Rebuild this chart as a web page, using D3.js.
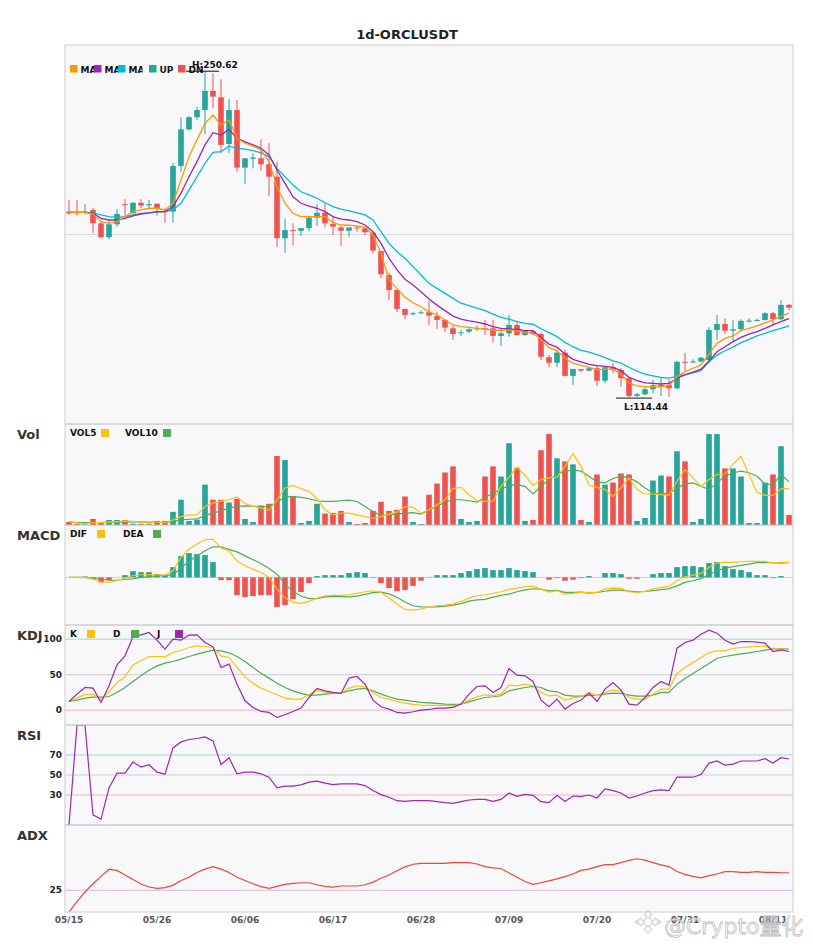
<!DOCTYPE html>
<html>
<head>
<meta charset="utf-8">
<script src="https://cdn.jsdelivr.net/npm/d3@7"></script>
<style>
 body { margin: 0; background: #fff; font-family: "DejaVu Sans", sans-serif; }
</style>
</head>
<body>
<div id="chart-area"></div>
<script>
// ---- data ----
var dates = ["05/15","05/16","05/17","05/18","05/19","05/20","05/21","05/22","05/23","05/24","05/25","05/26","05/27","05/28","05/29","05/30","05/31",
 "06/01","06/02","06/03","06/04","06/05","06/06","06/07","06/08","06/09","06/10","06/11","06/12","06/13","06/14","06/15","06/16","06/17","06/18","06/19","06/20",
 "06/21","06/22","06/23","06/24","06/25","06/26","06/27","06/28","06/29","06/30",
 "07/01","07/02","07/03","07/04","07/05","07/06","07/07","07/08","07/09","07/10","07/11","07/12","07/13","07/14","07/15","07/16","07/17","07/18","07/19","07/20",
 "07/21","07/22","07/23","07/24","07/25","07/26","07/27","07/28","07/29","07/30","07/31",
 "08/01","08/02","08/03","08/04","08/05","08/06","08/07","08/08","08/09","08/10","08/11","08/12","08/13"];

var open = [192.1,191.8,191.6,192.8,187.2,181.4,186.8,195.2,191.4,195.8,194.7,195.4,192.4,192.1,211.2,226.5,231.6,234.6,242.6,239.9,
 220.4,234.6,210.5,214.2,214.4,211.9,206.7,181.0,184.4,184.1,185.2,189.6,191.6,186.9,185.5,184.1,185.5,185.1,183.3,175.6,
 165.6,159.3,151.4,149.4,149.8,150.0,148.4,146.8,143.3,141.4,141.9,143.1,143.3,143.3,140.1,141.2,144.7,140.5,142.0,140.9,
 131.2,128.9,133.1,123.4,126.2,125.6,126.6,121.4,127.0,125.9,122.4,115.0,115.7,117.8,119.4,119.6,118.2,129.3,129.1,129.4,
 130.0,142.6,145.1,142.3,142.9,146.4,146.5,146.8,149.6,147.1,153.1];
var high = [197.0,197.0,195.2,193.7,187.9,188.6,193.1,197.3,196.0,197.3,197.0,195.6,193.5,212.6,231.6,232.1,236.0,250.62,249.9,247.4,
 239.1,238.8,214.4,216.5,222.3,220.7,213.0,189.3,187.2,185.3,190.4,195.2,195.6,190.3,186.1,185.5,186.1,185.5,183.7,175.8,
 166.6,159.5,151.5,150.2,150.8,154.7,150.2,147.0,144.4,142.6,143.3,144.4,146.8,146.8,143.3,148.9,146.5,142.6,142.6,141.5,
 132.1,134.5,134.5,126.3,126.3,126.8,128.0,127.5,128.7,126.6,123.0,116.3,118.6,121.7,122.4,122.0,129.6,133.1,130.3,131.3,
 143.7,148.9,147.5,146.8,147.1,147.5,147.4,150.0,150.2,155.1,153.5];
var low = [190.7,190.4,191.0,183.3,181.0,180.5,185.8,190.3,191.2,193.5,193.1,190.4,187.5,187.5,208.8,226.0,230.4,224.6,235.3,216.5,
 216.5,208.8,203.7,210.2,209.2,198.6,177.2,174.9,178.1,182.0,184.0,186.1,185.5,182.3,177.7,181.6,183.7,182.3,174.7,164.2,
 155.1,150.0,147.1,148.6,149.3,144.7,143.0,141.6,138.4,140.1,141.2,142.2,140.5,137.3,136.0,139.8,140.1,140.1,140.5,130.0,
 127.0,127.0,123.1,119.6,124.9,125.4,119.2,120.3,124.7,118.9,114.44,114.6,115.4,116.1,115.0,114.7,117.8,125.2,128.7,129.2,
 128.9,138.4,140.9,138.1,142.6,145.6,146.1,146.5,144.7,146.7,150.9];
var close = [191.4,191.4,192.1,187.2,181.4,186.8,191.1,194.9,195.8,194.6,195.2,193.3,191.9,211.2,226.5,231.6,234.6,242.6,240.2,220.0,
 234.6,210.5,214.4,214.7,211.9,206.7,181.0,184.4,184.2,185.2,189.6,191.6,187.2,185.8,184.1,185.5,185.3,183.5,175.8,165.9,
 159.3,151.4,148.9,149.6,150.0,148.6,146.8,143.6,140.9,141.6,142.9,143.3,143.1,140.1,141.2,144.7,140.5,142.4,140.9,131.4,
 128.9,133.1,123.4,126.3,125.6,126.6,121.4,127.0,125.9,122.4,115.0,115.7,117.8,119.5,119.6,118.2,129.3,129.1,129.4,131.0,
 142.6,145.1,142.3,142.9,146.4,146.5,146.8,149.6,147.1,153.1,151.9];

var ma5 = [191.8,191.8,191.8,191.1,187.9,187.2,187.9,190.0,192.1,192.8,193.5,193.5,192.8,195.6,205.3,215.1,222.1,229.0,232.5,228.3,
 230.4,222.8,220.7,219.5,217.9,213.0,202.5,195.6,191.4,190.0,190.0,190.0,190.0,187.5,186.5,186.4,186.1,185.5,182.3,174.7,
 163.5,160.0,156.3,154.0,152.3,150.2,148.9,146.8,144.7,144.0,143.7,143.3,142.9,142.6,142.3,142.6,142.3,141.5,141.2,138.7,
 135.2,133.9,130.8,128.7,127.8,127.0,125.9,126.2,126.2,124.2,120.3,119.2,118.9,118.9,118.9,119.2,123.1,125.1,126.6,128.0,
 132.6,137.0,139.1,140.1,142.3,143.3,144.3,145.6,146.8,148.4,149.6];
var ma10 = [191.8,191.8,191.8,191.4,189.3,188.6,188.6,189.3,190.3,191.1,191.6,192.1,192.1,194.2,199.8,206.7,213.0,220.0,225.1,224.1,
 226.5,222.8,221.3,220.0,218.6,215.8,209.5,203.9,198.3,195.6,194.4,193.5,192.1,190.0,189.0,188.6,187.9,186.5,183.7,178.8,
 172.6,167.7,163.8,161.4,158.6,155.6,153.0,150.7,148.4,147.1,146.4,145.9,145.1,144.0,143.3,143.0,142.9,142.3,142.3,139.5,
 136.7,135.4,132.6,130.3,129.3,128.2,127.7,127.4,127.0,125.6,122.8,121.4,120.5,120.3,120.0,120.3,122.4,123.8,125.0,126.2,
 129.6,133.5,135.6,137.7,139.5,140.9,141.9,143.3,144.7,146.1,147.3];
var ma20 = [191.8,191.8,191.8,191.6,190.7,190.0,189.7,190.0,190.7,191.4,191.6,191.9,192.1,192.8,195.6,201.1,206.7,212.3,216.9,217.2,
 219.5,218.6,218.2,217.6,216.7,215.1,210.2,206.7,203.2,200.4,199.1,197.7,195.8,194.2,193.1,192.4,191.6,190.7,188.6,183.7,
 178.8,175.3,172.6,169.1,165.6,162.1,160.0,157.9,155.8,153.8,152.8,151.7,150.7,149.2,147.9,147.1,146.1,145.4,145.0,143.1,
 141.5,139.8,137.4,135.6,134.1,133.3,132.3,131.0,129.7,128.7,127.0,125.4,124.1,123.4,122.8,122.5,123.2,123.9,124.7,125.6,
 129.3,132.1,133.9,135.4,137.3,138.7,140.1,141.2,142.3,143.3,144.3];

// volume in thousands
var volume = [3,1,0.7,6,2.7,5,5,5,1.3,1.3,1.3,4,4,13,25,4,5.3,40,25,25,
 22.3,26,6,3,19.3,21,68.3,64.3,27.7,2,4,21,11.3,12,14,3,1,2,14,23,
 14,15,28.2,3,1,30,41,52,58,6,3,4,48,58,48,81,56.7,4,5,74,
 90,66,63,60,5,3,50,40,42,51,50,4,7,44,49,48,73,63,3,6,
 90,90,56,56,48,2,2,42,50,78,10];
var vol5 = [3,2,1.3,2.3,2.3,3,3,4,3.7,2.7,2.7,2.7,2.3,5,8.3,10,10,18.3,21.7,23.7,
 25,27.7,21.3,18.7,16.7,14.7,25,36.7,39.3,36,33.3,26,15,10,11.7,11.7,10,8.3,6.7,8.3,
 10.7,12.7,18.3,17.5,11.7,15,20,25,36,37.3,30,24,23.3,23.3,38.3,47.3,57.3,49.3,39,45,
 46.7,47.3,58.3,70.7,58.3,39.3,37.3,35,28.3,36.7,46.7,35,30.7,30.7,30,29.3,43.3,55,46.7,38.3,
 45,50,50.7,60,68,50,32.3,29.3,29.3,35.7,36];
var vol10 = [3,2.5,2.5,2.5,2.5,2.7,2.7,3,3,3,2.8,2.7,2.7,3.3,5,5.7,6,9.3,11.7,14,
 16.7,18.3,19,18.7,18.3,18.3,22.7,27.7,28.3,27.3,26,24,23.3,23.3,24,24.7,23.3,18.3,13.3,9.3,
 10,10.7,11.7,12.3,10.7,15,18.3,22.7,25,25,24,22.7,27.3,31.7,35,39.3,40,38.3,30.7,38.3,
 45,50,53.3,54.3,53.3,48.3,42.7,41.7,46,48.3,46.7,42.7,36.7,31.7,31,31,36.7,40.7,41.7,38.3,
 35,41.7,48.3,51.7,53.3,51.7,48.3,40.7,40,50,42.7];

var dif = [0,0,0,-0.59,-1.53,-1.76,-1.18,-0.24,0.59,0.94,0.94,0.94,0.82,2.35,7.06,10.0,11.76,13.29,13.53,10.35,
 9.41,5.88,4.12,2.94,1.76,0,-4.12,-7.29,-8.82,-9.18,-8.47,-7.29,-6.47,-6.35,-6.35,-6.12,-5.65,-5.06,-4.71,-5.29,
 -7.29,-9.41,-11.3,-11.53,-11.18,-10.35,-10.0,-9.76,-9.41,-8.47,-7.29,-6.47,-6.12,-5.65,-5.06,-4.24,-3.76,-3.29,-3.06,-4.12,
 -5.18,-4.71,-5.88,-5.65,-5.29,-5.29,-5.29,-4.12,-3.76,-3.88,-5.06,-5.29,-4.94,-4.12,-3.53,-3.18,-1.18,0.24,0.82,1.41,
 3.53,5.06,5.29,5.29,5.53,5.65,5.65,5.65,5.06,5.29,5.29];
var dea = [0,0,-0.1,-0.3,-0.65,-0.95,-1.0,-0.65,-0.5,0,0.3,0.55,0.7,0.9,3.3,5.7,7.6,9.4,10.8,10.82,
 9.88,9.0,7.6,6.24,4.89,3.13,1.13,-2.4,-4.99,-6.58,-7.46,-7.52,-6.88,-6.75,-6.75,-6.88,-6.6,-6.0,-5.4,-5.2,
 -5.8,-7.0,-8.7,-10.0,-10.4,-10.45,-10.4,-10.16,-9.81,-9.23,-8.4,-7.94,-7.76,-6.94,-6.35,-5.88,-5.05,-4.4,-4.0,-4.12,
 -4.77,-4.59,-5.3,-5.25,-5.17,-5.52,-5.29,-4.88,-4.52,-4.46,-4.83,-5.06,-4.94,-4.7,-4.29,-3.94,-3.0,-1.76,-1.18,-0.41,
 1.0,2.36,3.3,3.82,4.24,4.71,5.24,5.24,5.18,5.06,5.29];
var macdHist = [0,0,0.35,-0.6,-1.77,-0.95,0,0.81,2.23,1.87,1.87,1.17,0.81,3.64,7.53,8.59,8.23,7.88,5.41,-0.95,
 -0.95,-6.25,-6.96,-6.61,-6.25,-6.25,-10.49,-9.79,-7.67,-5.19,-2.01,0.46,0.81,0.81,0.81,1.52,1.87,1.52,-0.18,-2.01,
 -3.78,-4.84,-4.42,-3.0,-1.17,-0.11,0.81,0.81,0.81,1.52,2.23,2.93,3.29,2.58,2.58,3.29,2.58,2.23,1.87,0,
 -0.81,-0.25,-1.17,-0.81,-0.25,0.46,0,1.52,1.52,1.17,-0.46,-0.46,0,1.17,1.52,1.52,3.64,3.99,3.99,3.64,
 5.05,5.41,3.99,2.93,2.58,1.87,0.81,0.81,-0.25,0.46,0];

var kLine = [12.2,16.9,22.1,22.1,14.6,25.8,38.9,46.9,63.8,69.5,75.6,75.6,75.1,81.2,84.0,88.3,90.6,89.7,88.3,76.5,
 74.2,60.1,46.9,37.6,31.0,26.5,21.6,16.9,15.5,15.5,22.5,28.2,25.4,24.4,23.9,31.0,34.3,32.9,24.9,17.8,
 15.5,12.2,9.9,8.0,7.0,6.6,6.6,6.6,6.1,8.5,14.1,18.8,21.6,20.2,22.5,35.2,34.3,36.6,34.3,24.9,
 20.2,21.1,14.1,16.9,18.8,24.9,20.2,24.9,28.2,27.2,17.8,15.5,15.5,22.5,29.6,29.6,51.6,60.1,67.1,74.2,
 81.2,83.6,83.6,86.9,88.3,89.2,89.7,90.1,85.9,86.4,85.4];
var dLine = [12.2,14.1,16.9,18.3,18.3,19.2,24.9,31.9,40.4,48.4,56.3,62.4,66.2,68.5,71.8,75.6,78.9,81.7,84.5,83.6,
 80.8,75.6,68.5,60.1,52.1,45.1,38.0,31.9,27.2,23.5,21.1,21.1,22.5,23.5,23.9,27.2,29.6,30.5,27.2,22.5,
 18.8,15.5,14.0,12.3,11.0,10.3,9.4,8.5,8.0,8.5,11.7,15.0,17.8,18.8,20.2,27.2,29.6,31.9,33.3,31.9,
 27.2,25.8,21.1,19.7,19.7,20.7,21.1,22.5,23.9,23.5,21.1,19.7,19.7,21.1,24.9,24.9,36.6,44.6,51.6,58.7,
 65.7,73.2,75.6,77.5,79.3,80.8,82.6,84.5,86.4,86.4,85.9];
var jLine = [12.2,22.5,31.9,31.0,10.8,34.3,63.8,76.5,103.3,106.1,109.4,98.6,85.9,100,98.6,105.6,106.1,95.3,89.2,60.1,
 64.8,36.6,13.1,3.8,-1.9,-3.3,-10.3,-6.6,-1.9,2.8,17.8,30.5,27.2,24.9,23.5,45.1,47.4,36.6,14.1,4.7,
 1.4,-3.3,-4.2,-2.3,0,0.9,2.8,2.8,3.8,8.5,22.5,33.3,34.3,24.9,31.9,58.7,49.3,48.4,40.4,14.1,
 4.7,15.5,1.4,9.4,14.1,23.9,12.2,29.6,38.9,28.2,8.5,7.0,17.8,31.9,40.4,35.2,87.3,95.3,98.6,107.0,
 112.7,108.5,98.6,93.0,96.7,96.7,95.8,94.4,82.6,85.0,82.6];

var rsi = [0,100,100,10.2,5.8,37.1,51.9,51.9,62.9,57.9,60.3,52.9,50.8,77.1,83.1,85.5,86.5,88.1,84.1,60.3,
 67.3,51.2,52.9,52.9,51.2,47.8,37.1,38.8,38.8,40.1,42.8,43.8,41.8,40.4,41.1,41.1,41.1,39.4,34.4,30.4,
 27.7,24.3,23.6,24.3,24.3,24.3,23.3,22.3,21.6,23.3,25.0,25.6,25.6,23.6,25.6,32.0,28.7,30.7,29.7,23.3,
 22.3,29.7,23.6,29.0,28.3,30.0,27.0,36.1,34.4,32.0,27.0,29.0,32.0,34.4,35.1,34.4,47.8,47.8,47.8,50.5,
 61.9,64.0,59.9,60.9,64.0,64.0,64.0,66.3,61.9,67.3,66.0];
var adx = [0,11.9,23.1,32.5,41.0,48.9,47.8,42.5,37.3,32.1,28.7,27.2,28.0,30.6,36.2,39.9,45.5,49.3,52.2,49.3,
 45.5,39.9,36.2,32.5,29.1,27.2,29.5,31.7,32.8,33.6,33.6,31.3,29.5,28.7,29.9,29.9,29.9,31.3,34.3,38.8,
 42.5,47.4,51.9,54.9,56.0,56.0,56.0,56.0,56.7,56.7,56.7,55.2,52.2,50.7,50.0,44.8,39.9,35.1,31.7,33.6,
 35.8,38.1,40.7,43.7,47.8,49.3,52.2,54.5,54.5,56.7,59.3,61.2,59.7,56.7,54.1,52.2,46.6,43.3,41.0,39.2,
 41.8,43.7,46.3,46.3,45.5,45.5,46.3,45.5,45.5,45.1,45.1];

// ---- layout ----
var width = 813, height = 950;
var left = 65, right = 793;
var panel = {
  price: [45, 424],
  vol: [424, 525],
  macd: [525, 625],
  kdj: [625, 725],
  rsi: [725, 825],
  adx: [825, 912]
};
var upColor = "#26a69a", downColor = "#ef5350";
var bg = "#f8f8fb";

var svg = d3.select("#chart-area")
  .append("svg")
  .attr("width", width)
  .attr("height", height)
  .style("font-family", "'DejaVu Sans', sans-serif");

var x = d3.scaleBand().domain(dates).range([left, right]);
var cx = function(i) { return x(dates[i]) + x.bandwidth() / 2; };
var bw = x.bandwidth() * 0.7;

// panel backgrounds + clips
Object.keys(panel).forEach(function(k) {
  var p = panel[k];
  svg.append("rect").attr("x", left).attr("y", p[0]).attr("width", right - left).attr("height", p[1] - p[0])
    .attr("fill", bg);
  svg.append("clipPath").attr("id", "clip-" + k)
    .append("rect").attr("x", left).attr("y", p[0]).attr("width", right - left).attr("height", p[1] - p[0]);
});

// title
svg.append("text").attr("x", 407).attr("y", 39).attr("text-anchor", "middle")
  .attr("font-size", "13px").attr("font-weight", "bold").attr("fill", "#222").text("1d-ORCLUSDT");

// ---------- price panel ----------
var pMin = d3.min(low), pMax = d3.max(high), pad = (pMax - pMin) * 0.082;
var y = d3.scaleLinear().domain([pMin - pad, pMax + pad]).range([panel.price[1], panel.price[0]]);

var gp = svg.append("g").attr("clip-path", "url(#clip-price)");
var midPrice = y.invert((panel.price[0] + panel.price[1]) / 2);
gp.append("line").attr("x1", left).attr("x2", right)
  .attr("y1", y(midPrice)).attr("y2", y(midPrice))
  .attr("stroke", "#dcdcdc");

var idx = d3.range(dates.length);
var cand = gp.selectAll(".cand").data(idx).enter().append("g");
cand.append("line")
  .attr("x1", cx).attr("x2", cx)
  .attr("y1", function(i) { return y(high[i]); })
  .attr("y2", function(i) { return y(low[i]); })
  .attr("stroke", function(i) { return close[i] >= open[i] ? upColor : downColor; })
  .attr("stroke-width", 1);
cand.append("rect")
  .attr("x", function(i) { return cx(i) - bw / 2; })
  .attr("width", bw)
  .attr("y", function(i) { return y(Math.max(open[i], close[i])); })
  .attr("height", function(i) { return Math.max(1, Math.abs(y(open[i]) - y(close[i]))); })
  .attr("fill", function(i) { return close[i] >= open[i] ? upColor : downColor; });

var line = function(arr, sy) {
  return d3.line().x(function(d, i) { return cx(i); }).y(function(d) { return sy(d); })(arr);
};
[[ma20, "#00bcd4"], [ma10, "#9c27b0"], [ma5, "#ff9800"]].forEach(function(s) {
  gp.append("path").attr("d", line(s[0], y)).attr("fill", "none").attr("stroke", s[1]).attr("stroke-width", 1.3);
});

// legend: labels get cut off by the next swatch, like in the original
var legItems = [["MA5", "#ff9800", 70, 14.5], ["MA10", "#9c27b0", 94, 14.5], ["MA20", "#00bcd4", 118, 14.5],
                ["UP", upColor, 149, 30], ["DN", downColor, 178, 30]];
legItems.forEach(function(it, n) {
  svg.append("clipPath").attr("id", "leg-" + n)
    .append("rect").attr("x", it[2] + 10).attr("y", 58).attr("width", it[3]).attr("height", 20);
  svg.append("rect").attr("x", it[2]).attr("y", 65).attr("width", 7.5).attr("height", 7.5).attr("fill", it[1]);
  svg.append("text").attr("x", it[2] + 10.5).attr("y", 72.5).attr("font-size", "9px").attr("font-weight", "bold")
    .attr("clip-path", "url(#leg-" + n + ")")
    .attr("fill", "#111").text(it[0]);
});

// high / low marks
var hi = d3.maxIndex(high), lo = d3.minIndex(low);
svg.append("line").attr("x1", cx(hi) - 19).attr("x2", cx(hi) + 14).attr("y1", y(high[hi]) - 0.5).attr("y2", y(high[hi]) - 0.5)
  .attr("stroke", "#111").attr("stroke-width", 1);
svg.append("text").attr("x", cx(hi) - 13).attr("y", y(high[hi]) - 3.5).attr("font-size", "9px").attr("font-weight", "bold")
  .attr("fill", "#111").text("H:" + high[hi].toFixed(2));
svg.append("line").attr("x1", cx(lo) - 13).attr("x2", cx(lo) + 23).attr("y1", y(low[lo]) + 0.8).attr("y2", y(low[lo]) + 0.8)
  .attr("stroke", "#111").attr("stroke-width", 1);
svg.append("text").attr("x", cx(lo) - 5).attr("y", y(low[lo]) + 12.5).attr("font-size", "9px").attr("font-weight", "bold")
  .attr("fill", "#111").text("L:" + low[lo].toFixed(2));

// ---------- volume ----------
var yv = d3.scaleLinear().domain([0, d3.max(volume) / 0.9]).range([panel.vol[1], panel.vol[0]]);
var gv = svg.append("g").attr("clip-path", "url(#clip-vol)");
gv.selectAll(".vb").data(idx).enter().append("rect")
  .attr("x", function(i) { return cx(i) - bw / 2; })
  .attr("width", bw)
  .attr("y", function(i) { return yv(volume[i]); })
  .attr("height", function(i) { return yv(0) - yv(volume[i]); })
  .attr("fill", function(i) { return close[i] >= open[i] ? upColor : downColor; });
gv.append("path").attr("d", line(vol10, yv)).attr("fill", "none").attr("stroke", "#4caf50").attr("stroke-width", 1.2);
gv.append("path").attr("d", line(vol5, yv)).attr("fill", "none").attr("stroke", "#ffc107").attr("stroke-width", 1.2);

// ---------- MACD ----------
var ym = d3.scaleLinear().domain([-16.8, 18.5]).range([panel.macd[1], panel.macd[0]]);
var gm = svg.append("g").attr("clip-path", "url(#clip-macd)");
gm.append("line").attr("x1", left).attr("x2", right).attr("y1", ym(0)).attr("y2", ym(0)).attr("stroke", "#cfcfcf");
gm.selectAll(".mb").data(idx).enter().append("rect")
  .attr("x", function(i) { return cx(i) - bw / 2; })
  .attr("width", bw)
  .attr("y", function(i) { return ym(Math.max(0, macdHist[i])); })
  .attr("height", function(i) { return Math.abs(ym(macdHist[i]) - ym(0)); })
  .attr("fill", function(i) { return macdHist[i] >= 0 ? upColor : downColor; });
gm.append("path").attr("d", line(dea, ym)).attr("fill", "none").attr("stroke", "#4caf50").attr("stroke-width", 1.2);
gm.append("path").attr("d", line(dif, ym)).attr("fill", "none").attr("stroke", "#ffc107").attr("stroke-width", 1.2);

// ---------- KDJ ----------
var yk = d3.scaleLinear().domain([-21, 120]).range([panel.kdj[1], panel.kdj[0]]);
var gk = svg.append("g").attr("clip-path", "url(#clip-kdj)");
[[100, "#9fd8cf"], [50, "#cfcfcf"], [0, "#f6b3b3"]].forEach(function(g) {
  gk.append("line").attr("x1", left).attr("x2", right).attr("y1", yk(g[0])).attr("y2", yk(g[0])).attr("stroke", g[1]);
  svg.append("text").attr("x", 62).attr("y", yk(g[0])).attr("dy", "0.35em").attr("text-anchor", "end")
    .attr("font-size", "9px").attr("font-weight", "bold").attr("fill", "#222").text(g[0]);
});
gk.append("path").attr("d", line(dLine, yk)).attr("fill", "none").attr("stroke", "#4caf50").attr("stroke-width", 1.2);
gk.append("path").attr("d", line(kLine, yk)).attr("fill", "none").attr("stroke", "#ffc107").attr("stroke-width", 1.2);
gk.append("path").attr("d", line(jLine, yk)).attr("fill", "none").attr("stroke", "#9c27b0").attr("stroke-width", 1.2);

// ---------- RSI ----------
var yr = d3.scaleLinear().domain([0, 100]).range([panel.rsi[1], panel.rsi[0]]);
var gr = svg.append("g").attr("clip-path", "url(#clip-rsi)");
[[70, "#9fd8cf"], [50, "#cfcfcf"], [30, "#f6b3b3"]].forEach(function(g) {
  gr.append("line").attr("x1", left).attr("x2", right).attr("y1", yr(g[0])).attr("y2", yr(g[0])).attr("stroke", g[1]);
  svg.append("text").attr("x", 62).attr("y", yr(g[0])).attr("dy", "0.35em").attr("text-anchor", "end")
    .attr("font-size", "9px").attr("font-weight", "bold").attr("fill", "#222").text(g[0]);
});
gr.append("path").attr("d", line(rsi, yr)).attr("fill", "none").attr("stroke", "#9c27b0").attr("stroke-width", 1.2);

// ---------- ADX ----------
var ya = d3.scaleLinear().domain([0, 100]).range([panel.adx[1], panel.adx[0]]);
var ga = svg.append("g").attr("clip-path", "url(#clip-adx)");
ga.append("line").attr("x1", left).attr("x2", right).attr("y1", ya(25)).attr("y2", ya(25)).attr("stroke", "#dcb3e6");
svg.append("text").attr("x", 62).attr("y", ya(25)).attr("dy", "0.35em").attr("text-anchor", "end")
  .attr("font-size", "9px").attr("font-weight", "bold").attr("fill", "#222").text("25");
ga.append("path").attr("d", line(adx, ya)).attr("fill", "none").attr("stroke", "#f44336").attr("stroke-width", 1.2);

// ---------- frames, panel names, legends ----------
svg.append("rect").attr("x", left).attr("y", panel.price[0]).attr("width", right - left)
  .attr("height", panel.adx[1] - panel.price[0]).attr("fill", "none").attr("stroke", "#cccccc");
[panel.vol[0], panel.macd[0], panel.kdj[0], panel.rsi[0], panel.adx[0]].forEach(function(yy) {
  svg.append("line").attr("x1", left).attr("x2", right).attr("y1", yy).attr("y2", yy).attr("stroke", "#b8b8b8");
});

[["Vol", panel.vol[0]], ["MACD", panel.macd[0]], ["KDJ", panel.kdj[0]], ["RSI", panel.rsi[0]], ["ADX", panel.adx[0]]]
  .forEach(function(l) {
    svg.append("text").attr("x", 17).attr("y", l[1] + 15).attr("font-size", "13px").attr("font-weight", "bold")
      .attr("fill", "#333").text(l[0]);
  });

function subLegend(top, items) {
  items.forEach(function(it) {
    svg.append("text").attr("x", it[2]).attr("y", top + 12).attr("font-size", "9px").attr("font-weight", "bold")
      .attr("fill", "#111").text(it[0]);
    svg.append("rect").attr("x", it[3]).attr("y", top + 5).attr("width", 8).attr("height", 8).attr("fill", it[1]);
  });
}
subLegend(panel.vol[0], [["VOL5", "#ffc107", 70, 101], ["VOL10", "#4caf50", 125, 163]]);
subLegend(panel.macd[0], [["DIF", "#ffc107", 70, 97], ["DEA", "#4caf50", 123, 153]]);
subLegend(panel.kdj[0], [["K", "#ffc107", 70, 87], ["D", "#4caf50", 113, 131], ["J", "#9c27b0", 157, 175]]);

// ---------- x axis ----------
var xAxis = d3.axisBottom(x)
  .tickValues(dates.filter(function(d, i) { return i % 11 === 0; }))
  .tickSize(0)
  .tickPadding(5);
var xg = svg.append("g").attr("transform", "translate(0," + panel.adx[1] + ")").call(xAxis);
xg.select(".domain").remove();
xg.selectAll("text").attr("font-size", "9px").attr("font-weight", "bold").attr("fill", "#555")
  .attr("font-family", "'DejaVu Sans', sans-serif");

// watermark (logo + name) over the bottom-right corner
var wm = svg.append("g").attr("opacity", 0.85);
[[0, 0, 4], [-7.5, 0, 2.6], [7.5, 0, 2.6], [0, -7.5, 2.6], [0, 7.5, 2.6], [-11, 0, 1.2], [11, 0, 1.2]].forEach(function(s) {
  wm.append("rect").attr("x", -s[2]).attr("y", -s[2]).attr("width", 2 * s[2]).attr("height", 2 * s[2])
    .attr("transform", "translate(" + (648 + s[0]) + "," + (922 + s[1]) + ") rotate(45)")
    .attr("fill", "#fff").attr("stroke", "#c4c4c4").attr("stroke-width", 1);
});
wm.append("text").attr("x", 664).attr("y", 934).attr("font-size", "22px").attr("fill", "#f7f7f7")
  .attr("stroke", "#b8b8b8").attr("stroke-width", 0.8)
  .attr("font-family", "'DejaVu Sans','Noto Sans CJK SC',sans-serif").text("@Crypto量化");
</script>
</body>
</html>
